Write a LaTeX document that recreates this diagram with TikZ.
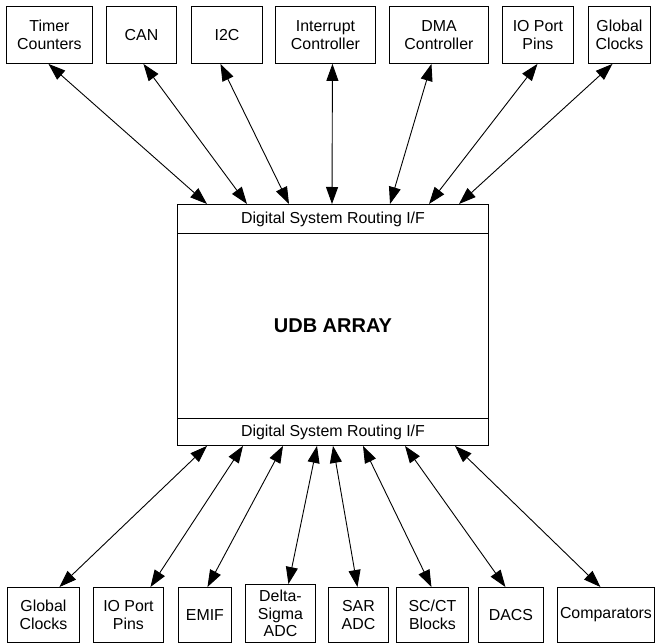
\documentclass[tikz,border=0pt]{standalone}
\usepackage{fontspec}
\setmainfont{Liberation Sans}
\usetikzlibrary{arrows.meta}
\begin{document}
\begin{tikzpicture}[x=1pt,y=-1pt,
  box/.style={draw, line width=0.9pt, align=center, inner sep=0pt, anchor=north west,
    font=\fontsize{15.9}{17.8}\selectfont},
  conn/.style={{Triangle[length=17pt,width=12pt]}-{Triangle[length=17pt,width=12pt]}, line width=0.9pt}]
\useasboundingbox (0,0) rectangle (655,644);
% top boxes
\node[box, minimum width=86, minimum height=57] (t1) at (6,6) {Timer\\Counters};
\node[box, minimum width=70, minimum height=57] (t2) at (106,6) {CAN};
\node[box, minimum width=71, minimum height=57] (t3) at (191,6) {I2C};
\node[box, minimum width=100, minimum height=57] (t4) at (275,6) {Interrupt\\Controller};
\node[box, minimum width=99, minimum height=57] (t5) at (389,6) {DMA\\Controller};
\node[box, minimum width=71, minimum height=57] (t6) at (502,6) {IO Port\\Pins};
\node[box, minimum width=62, minimum height=57] (t7) at (588,6) {Global\\Clocks};
% central
\node[box, minimum width=311, minimum height=29] (topif) at (177,204) {Digital System Routing I/F};
\node[box, minimum width=311, minimum height=185, font=\fontsize{20}{24}\selectfont\bfseries] (udb) at (177,233) {UDB ARRAY};
\node[box, minimum width=311, minimum height=27] (botif) at (177,418) {Digital System Routing I/F};
% bottom boxes
\node[box, minimum width=72, minimum height=55] (b1) at (7,587) {Global\\Clocks};
\node[box, minimum width=70, minimum height=55] (b2) at (93,587) {IO Port\\Pins};
\node[box, minimum width=53, minimum height=55] (b3) at (178,587) {EMIF};
\node[box, minimum width=70, minimum height=58] (b4) at (245,584) {Delta-\\Sigma\\ADC};
\node[box, minimum width=60, minimum height=55] (b5) at (328,587) {SAR\\ADC};
\node[box, minimum width=72, minimum height=55] (b6) at (396,587) {SC/CT\\Blocks};
\node[box, minimum width=65, minimum height=55] (b7) at (478,587) {DACS};
\node[box, minimum width=97, minimum height=55] (b8) at (557,587) {Comparators};
% top connectors
\draw[conn] ([xshift=-1]t1.south) -- ([xshift=30]topif.north west);
\draw[conn] ([xshift=2]t2.south) -- ([xshift=70]topif.north west);
\draw[conn] ([xshift=-6.5]t3.south) -- ([xshift=112]topif.north west);
\draw[conn] ([xshift=7]t4.south) -- ([xshift=155]topif.north west);
\draw[conn] ([xshift=-7.5]t5.south) -- ([xshift=213]topif.north west);
\draw[conn] ([xshift=-0.5]t6.south) -- ([xshift=252]topif.north west);
\draw[conn] ([xshift=-7]t7.south) -- ([xshift=282]topif.north west);
% bottom connectors
\draw[conn] ([xshift=30]botif.south west) -- ([xshift=16]b1.north);
\draw[conn] ([xshift=66]botif.south west) -- ([xshift=22]b2.north);
\draw[conn] ([xshift=106]botif.south west) -- ([xshift=2.5]b3.north);
\draw[conn] ([xshift=140]botif.south west) -- ([xshift=8]b4.north);
\draw[conn] ([xshift=156]botif.south west) -- ([xshift=-1]b5.north);
\draw[conn] ([xshift=186]botif.south west) -- ([xshift=-1]b6.north);
\draw[conn] ([xshift=228]botif.south west) -- ([xshift=-5.5]b7.north);
\draw[conn] ([xshift=278]botif.south west) -- ([xshift=-5.5]b8.north);
\end{tikzpicture}
\end{document}
